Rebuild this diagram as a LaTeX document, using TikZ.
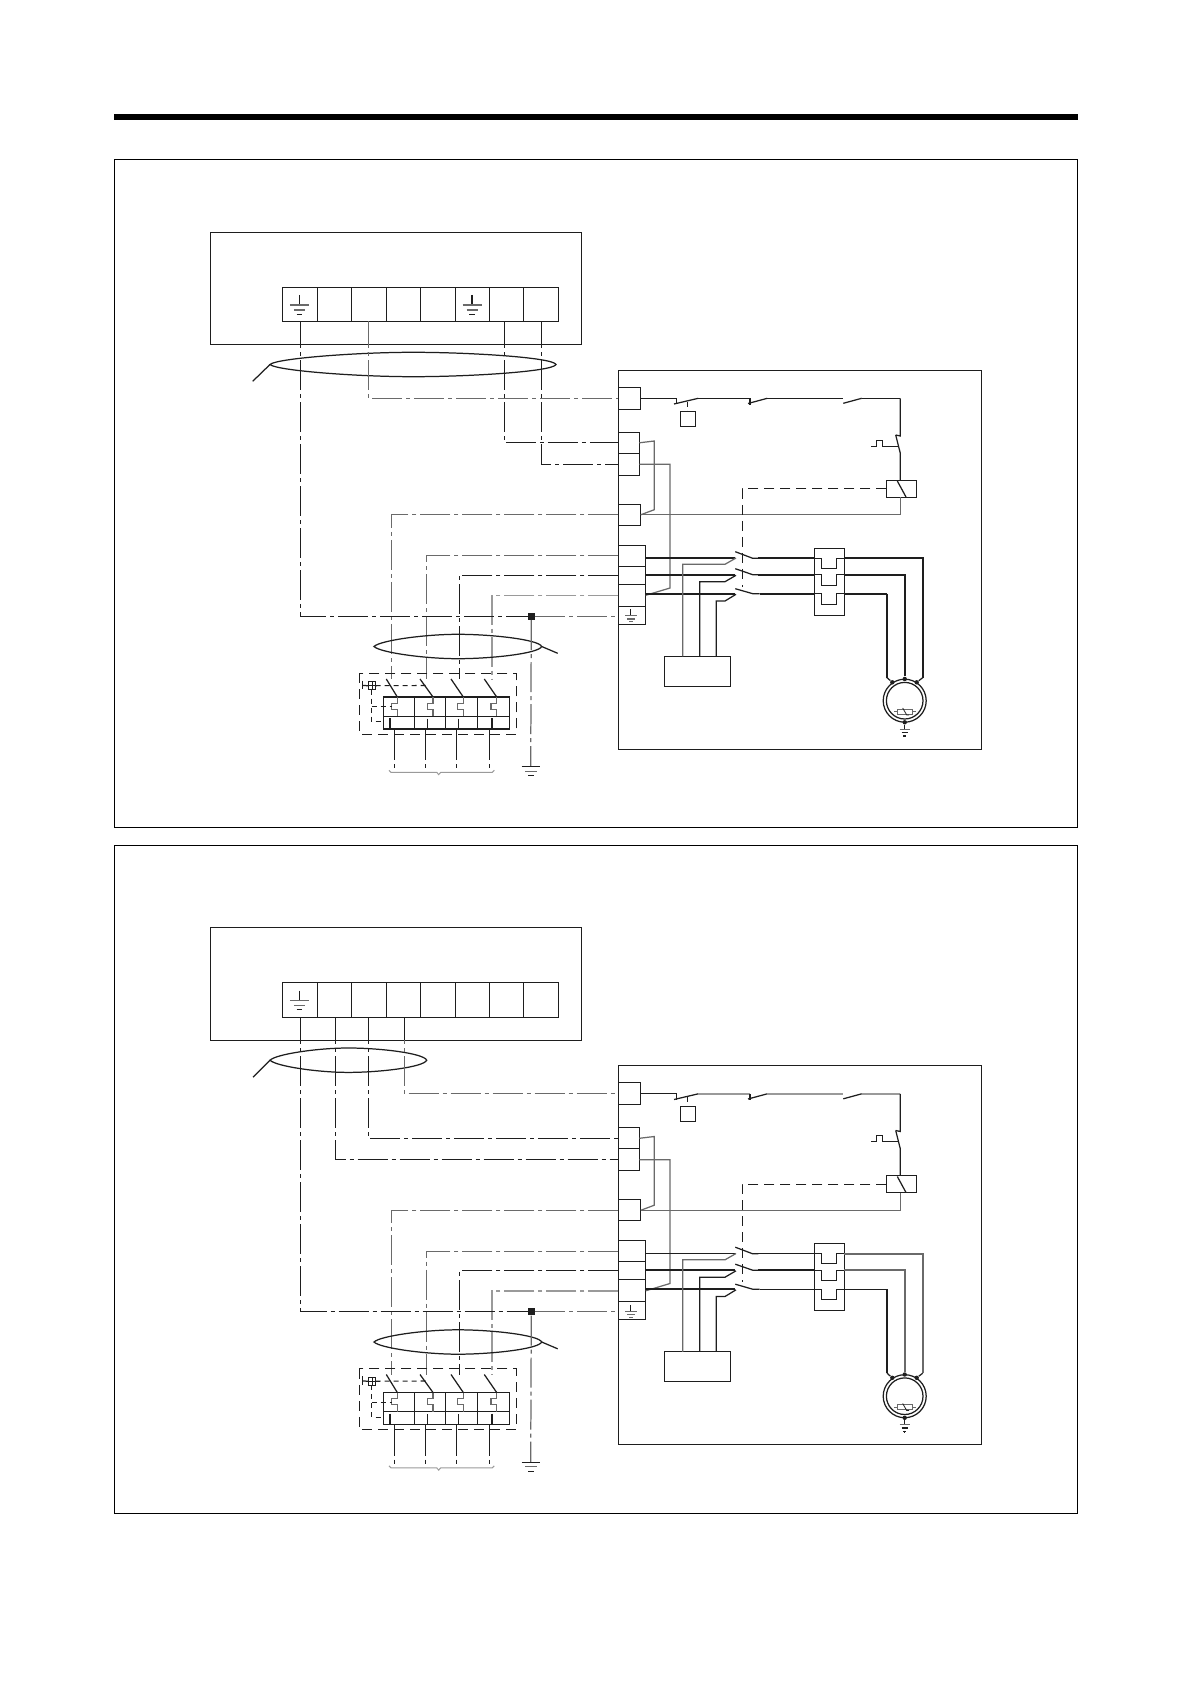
\documentclass[tikz,border=0pt]{standalone}
\usetikzlibrary{calc}
\definecolor{ink}{HTML}{1E1E1E}
\definecolor{mid}{HTML}{6A6A6A}
\definecolor{pale}{HTML}{9A9A9A}
\tikzset{
  ln/.style={line width=.62pt,draw=ink},
  frameln/.style={line width=.7pt,draw=black},
  cell/.style={draw=ink,line width=.62pt,inner sep=0pt,outer sep=0pt,rectangle},
  dd/.style={line width=.62pt,draw=ink,dash pattern=on 15pt off 2pt on 2pt off 2pt},
  ddmid/.style={line width=.62pt,draw=mid,dash pattern=on 15pt off 2pt on 2pt off 2pt},
  ddpale/.style={line width=.8pt,draw=pale,dash pattern=on 15pt off 2pt on 2pt off 2pt},
  dsh/.style={line width=.62pt,draw=ink,dash pattern=on 5pt off 3pt},
  dshs/.style={line width=.55pt,draw=ink,dash pattern=on 2.5pt off 2pt},
  gr/.style={line width=.62pt,draw=mid},
  thick1/.style={line width=1.05pt,draw=ink},
  thin1/.style={line width=.62pt,draw=ink},
  med1/.style={line width=.8pt,draw=mid},
  dot/.style={fill=ink,draw=none,circle,inner sep=0pt,minimum size=2.2pt}
}
\newcommand{\pxbox}[5]{\node[cell,minimum width={(#4-#2)*0.5pt},minimum height={(#5-#3)*0.5pt}] (#1) at ({(#2+#4)/2},{(#3+#5)/2}) {};}
\newcommand{\lens}[4]{% left, right, centre y, half height
  \pgfmathsetmacro{\lc}{(#1+#2)/2}
  \draw[ln] (#1,#3) .. controls (#1+6,#3-6) and ({#1+0.3*(#2-#1)},#3-#4) .. (\lc,#3-#4)
    .. controls ({#2-0.3*(#2-#1)},#3-#4) and (#2-3,#3-7) .. (#2,#3)
    .. controls (#2-3,#3+7) and ({#2-0.3*(#2-#1)},#3+#4) .. (\lc,#3+#4)
    .. controls ({#1+0.3*(#2-#1)},#3+#4) and (#1+6,#3+6) .. cycle;}
\newcommand{\gnd}[2]{% x, y of top bar: strip earth
  \draw[ln] (#1,#2-10) -- (#1,#2);
  \draw[gr] (#1-9.5,#2) -- (#1+9.5,#2);
  \draw[gr] (#1-5.5,#2+5) -- (#1+5.5,#2+5);
  \draw[ln] (#1-2.7,#2+9.3) -- (#1+2.7,#2+9.3);}
\newcommand{\breakerpole}[2]{% blade top x, pole x
  \draw[ln] (#1,679) -- (#2,697);
  \draw[gr] (#2,697) -- (#2,703.3) -- (#2-5.7,703.3) -- (#2-5.7,709.3) -- (#2,709.3) -- (#2,716.3);}
\newcommand{\ushape}[2]{\draw[ln] (ol.west |- 0,#1) -- (821.7,#1) -- (821.7,#2) -- (836.7,#2) -- (836.7,#1) -- (ol.east |- 0,#1);}
\newcommand{\rightpart}{%
  % main box and terminals
  \pxbox{rb}{618.3}{370.3}{981.3}{749.3}
  \pxbox{t1}{618.3}{387.3}{640.7}{409.3}
  \pxbox{t2}{618.3}{432.3}{639.3}{453.3}
  \pxbox{t3}{618.3}{453.3}{639.3}{475.3}
  \pxbox{t4}{618.3}{504.3}{640.7}{525.3}
  \pxbox{t5}{618.3}{545.3}{645.7}{566.3}
  \pxbox{t6}{618.3}{566.3}{645.7}{584.3}
  \pxbox{t7}{618.3}{584.3}{645.7}{606.3}
  \pxbox{t8}{618.3}{606.3}{645.7}{624.3}
  \draw[ln] (630.7,609.3) -- (630.7,615.7);
  \draw[gr] (625,615.7) -- (636.7,615.7);
  \draw[gr] (627,619) -- (634.7,619);
  \draw[gr] (629,621.7) -- (632.5,621.7);
  % control chain
  \pxbox{lim}{680.3}{411.3}{695.7}{426.3}
  \pxbox{rel}{886.3}{480.3}{916.3}{497.3}
  \coordinate (s1) at (676.7,398.3);
  \coordinate (s1b) at (698.3,398.3);
  \coordinate (s2) at (750,398.3);
  \coordinate (s2b) at (767.3,398.3);
  \coordinate (s3) at (842.7,398.3);
  \coordinate (s3b) at (861.7,398.3);
  \coordinate (s4) at (900.3,398.3);
  \coordinate (s5) at (900.3,436);
  \coordinate (s6) at (900.3,453.3);
  \draw[ln] (t1.east) -- (s1) -- ++(0,6);
  \draw[ln] (674,404) -- (s1b);
  \draw[ctlA] (s1b) -- (s2);
  \draw[ln] (s2) -- ++(0,6.5);
  \draw[ln] (748,403.5) -- (s2b);
  \draw[ctlA] (s2b) -- (s3);
  \draw[ln] (843.3,403.3) -- (s3b);
  \draw[ctlA] (s3b) -- (s4);
  \draw[ln] (s4) -- (s5) -- (895.7,435);
  \draw[ln] (895.7,435) -- (s6) -- (s6 |- rel.north);
  \draw[ln] (871.3,446.3) -- (876.7,446.3) -- (876.7,440.3) -- (882.3,440.3) -- (882.3,446.3) -- (898.7,446.3);
  \draw[ln] (897.3,481) -- (906,497);
  \draw[dshs] (687.3,401.7) -- (lim.north -| 687.3,0);
  \draw[gr] (s4 |- rel.south) |- (t4.east);
  \draw[gr] (t4.east) -- (654.3,509.7) -- (654.3,441) -- (t2.east);
  \draw[gr] (t3.east) -- (670,464.3) -- (670,588) -- (t7.east);
  \coordinate (c3) at (742.3,586.7);
  \draw[dsh] (rel.west) -| (c3);
  % power contacts
  \coordinate (p1) at (735,558.3);
  \coordinate (p2) at (735,574.7);
  \coordinate (p3) at (735,593.7);
  \coordinate (k1) at (752.7,558.3);
  \coordinate (k2) at (752.7,574.7);
  \coordinate (k3) at (752.7,593.7);
  \pxbox{ol}{814.3}{548.3}{844.3}{615.3}
  \draw[pA] (t5.east |- p1) -- (p1);
  \draw[pB] (t6.east |- p2) -- (p2);
  \draw[pC] (t7.east |- p3) -- (p3);
  \draw[ln] (735.3,551.7) -- (k1) -- ++(5.6,0);
  \draw[ln] (735.3,568.7) -- (k2) -- ++(5.6,0);
  \draw[ln] (735.3,588.7) -- (k3) -- ++(7,0);
  \draw[pA] ($(k1)+(5.6,0)$) -- (ol.west |- k1);
  \draw[pB] ($(k2)+(5.6,0)$) -- (ol.west |- k2);
  \draw[pCb] ($(k3)+(7,0)$) -- (ol.west |- k3);
  \ushape{558.3}{568.3}
  \ushape{574.7}{585.3}
  \ushape{593.7}{604.3}
  % motor
  \node[cell,circle,minimum size=21.5pt] (mot) at (904.7,700.7) {};
  \node[cell,circle,minimum size=18.3pt] (moti) at (904.7,700.7) {};
  \node[dot] (m1) at (892.3,682.3) {};
  \node[dot] (m2) at (904.7,679) {};
  \node[dot] (m3) at (916.7,682.3) {};
  \node[dot] (m4) at (904.7,722.3) {};
  \draw[qA] (ol.east |- k1) -- (922.7,558.3) -- (922.7,677.7);
  \draw[ln] (922.7,677.7) -- (m3);
  \draw[qB] (ol.east |- k2) -- (m2 |- k2) -- (m2);
  \draw[qC] (ol.east |- k3) -- (887,593.7);
  \draw[thick1] (887,593.7) -- (887,677.7);
  \draw[ln] (887,677.7) -- (m1);
  \draw[ln] (m4) -- (904.7,729.3);
  \draw[gr] (899.5,729.3) -- (909.9,729.3);
  \draw[ln] (901.5,732.6) -- (907.9,732.6);
  \draw[ln] (903.4,736) -- (906,736);
  \draw[ln] (904.7,735) -- (904.7,737);
  % thermistor
  \node[draw=mid,line width=.4pt,inner sep=0pt,rectangle,minimum width=7.7pt,minimum height=2.4pt] (th) at (905,711.7) {};
  \draw[mid,line width=.4pt] (894,711.7) -- (th.west) (th.east) -- (916,711.7);
  \draw[ink,line width=.4pt] (902.7,708) -- (906.7,715) -- (909,715);
  % auxiliary box
  \pxbox{aux}{664.3}{656.3}{730.3}{686.3}
  \draw[gr] (682.7,656.3) -- (682.7,564.3) -- (725,564.3) -- (736,558);
  \draw[ln] (699.7,656.3) -- (699.7,581.7) -- (725,581.7) -- (736,575.3);
  \draw[ln] (716.3,656.3) -- (716.3,601) -- (725,601) -- (736,594.3);
  % lower-left group
  \coordinate (v1) at (391.3,679);
  \coordinate (v2) at (426.7,679);
  \coordinate (v3) at (459.3,679);
  \coordinate (v4) at (491.7,679);
  \draw[ddmid] (t4.west) -| (v1);
  \draw[ddmid] (t5.west) -| (v2);
  \draw[dd] (t6.west) -| (v3);
  \draw[ddpale] (t7.west) -| (v4);
  \lens{374}{541.7}{646.5}{12.2}
  \coordinate (lead2) at (557.7,653.3);
  \draw[ln] (541.7,646.5) -- (lead2);
  % earth point
  \node[fill=ink,draw=none,inner sep=0pt,minimum size=3.4pt,rectangle] (ep) at (531.3,616.3) {};
  \draw[ddmid] (ep) -- (530.7,766.7);
  \draw[ddmid] (ep) -- (ep -| t8.west);
  \draw[ln] (521.7,766.7) -- (540,766.7);
  \draw[gr] (525,771.3) -- (536.7,771.3);
  \draw[ln] (528,775.7) -- (534,775.7);
  % breaker
  \draw[dsh] (359.3,673.3) rectangle (516.3,734.3);
  \pxbox{br}{383.7}{697}{509.3}{729}
  \draw[ln] (br.west |- 0,716.3) -- (br.east |- 0,716.3);
  \draw[ln] (414.3,697) -- (414.3,729);
  \draw[ln] (445.3,697) -- (445.3,729);
  \draw[ln] (477.3,697) -- (477.3,729);
  \breakerpole{386.3}{397.3}
  \breakerpole{420}{433}
  \breakerpole{451}{463.3}
  \breakerpole{484.3}{496.7}
  \draw[ln,line width=1.1pt] (390,718) -- (390,729);
  \draw[ln,line width=1.1pt] (492,718) -- (492,729);
  \draw[ln] (427.3,718.7) -- (427.3,729);
  \draw[ln] (458.3,718.7) -- (458.3,729);
  \draw[ln] (362.7,680.7) -- (362.7,689.3);
  \pxbox{trip}{368.3}{681.7}{375.7}{689.7}
  \draw[ln,line width=.4pt] (trip.north) -- (trip.south) (trip.west) -- (trip.east);
  \draw[ln] (362.7,685.5) -- (trip.west);
  \draw[dshs] (trip.east) -- (426.7,685.5);
  \draw[dshs] (371.7,689.7) -- (371.7,721.7) -- (br.west |- 0,721.7);
  \draw[dshs] (371.7,706.7) -- (391.7,706.7);
  \foreach \xx/\nn in {394.3/a,425.3/b,456.7/c,489.7/d}{
    \coordinate (o\nn) at (\xx,755);
    \draw[ln] (\xx,729) -- (o\nn);
    \draw[dshs] (o\nn) -- (\xx,768.3);
  }
  \draw[pale,line width=.5pt] (389,770.3) -- (391,772.3) -- (436.7,772.3) -- (438.7,774.6) -- (440.7,772.3) -- (492.3,772.3) -- (494.3,770.3);
}
\begin{document}
\begin{tikzpicture}[x=.5pt,y=-.5pt]
\useasboundingbox (0,0) rectangle (1190,1684);
\fill[black] (114,114) rectangle (1078,120);
\draw[frameln] (114.3,159.3) rectangle (1077.7,827.3);
\draw[frameln] (114.3,845.3) rectangle (1077.7,1513.3);
% ---------- upper diagram
\begin{scope}[name prefix=a-,
   ctlA/.style={ln},
   pA/.style={thick1},pB/.style={thick1},pC/.style={thick1},pCb/.style={thick1},
   qA/.style={thick1},qB/.style={thick1},qC/.style={thick1}]
  \rightpart
  \pxbox{dev}{210.3}{232.3}{581.7}{344.3}
  \pxbox{c1}{282.3}{287.3}{317.3}{321.3}
  \pxbox{c2}{317.3}{287.3}{351.3}{321.3}
  \pxbox{c3}{351.3}{287.3}{386.3}{321.3}
  \pxbox{c4}{386.3}{287.3}{420.3}{321.3}
  \pxbox{c5}{420.3}{287.3}{455.3}{321.3}
  \pxbox{c6}{455.3}{287.3}{489.3}{321.3}
  \pxbox{c7}{489.3}{287.3}{523.3}{321.3}
  \pxbox{c8}{523.3}{287.3}{558.7}{321.3}
  \gnd{299.3}{305}
  \gnd{472}{305}
  \lens{270}{556}{364.5}{12.2}
  \coordinate (lead1) at (252.7,381.3);
  \draw[ln] (270,364.5) -- (lead1);
  \draw[ln] (c1.south -| 300.3,0) -- (300.3,344.3);
  \draw[dd,dash phase=13pt] (300.3,344.3) |- (ep);
  \draw[gr] (c3.south -| 368.3,0) -- (368.3,344.3);
  \draw[ddmid,dash phase=13pt] (368.3,344.3) |- (t1.west);
  \draw[ln] (c7.south -| 504.3,0) -- (504.3,344.3);
  \draw[dd,dash phase=13pt] (504.3,344.3) |- (t2.west);
  \draw[ln] (c8.south -| 541.3,0) -- (541.3,344.3);
  \draw[dd,dash phase=13pt] (541.3,344.3) |- (t3.west);
\end{scope}
% ---------- lower diagram
\begin{scope}[shift={(0,695.5)},name prefix=b-,
   ctlA/.style={line width=.8pt,draw=pale},
   pA/.style={thin1},pB/.style={thick1},pC/.style={thick1},pCb/.style={thin1},
   qA/.style={med1},qB/.style={med1},qC/.style={thin1}]
  \rightpart
  \pxbox{dev}{210.3}{232.3}{581.7}{344.7}
  \pxbox{c1}{282.3}{287.3}{317.3}{321.8}
  \pxbox{c2}{317.3}{287.3}{351.3}{321.8}
  \pxbox{c3}{351.3}{287.3}{386.3}{321.8}
  \pxbox{c4}{386.3}{287.3}{420.3}{321.8}
  \pxbox{c5}{420.3}{287.3}{455.3}{321.8}
  \pxbox{c6}{455.3}{287.3}{489.3}{321.8}
  \pxbox{c7}{489.3}{287.3}{523.3}{321.8}
  \pxbox{c8}{523.3}{287.3}{558.7}{321.8}
  \gnd{299.3}{305}
  \lens{270}{426.7}{364.7}{12.2}
  \coordinate (lead1) at (253,381.7);
  \draw[ln] (270,364.7) -- (lead1);
  \draw[ln] (c1.south -| 300.3,0) -- (300.3,344.7);
  \draw[dd,dash phase=13pt] (300.3,344.7) |- (ep);
  \draw[ln] (c2.south -| 335.3,0) -- (335.3,344.7);
  \draw[dd,dash phase=13pt] (335.3,344.7) |- (t3.west);
  \draw[ln] (c3.south -| 368.3,0) -- (368.3,344.7);
  \draw[dd,dash phase=13pt] (368.3,344.7) |- (t2.west);
  \draw[ln] (c4.south -| 404.3,0) -- (404.3,344.7);
  \draw[ddmid,dash phase=13pt] (404.3,344.7) |- (t1.west);
\end{scope}
\end{tikzpicture}
\end{document}
